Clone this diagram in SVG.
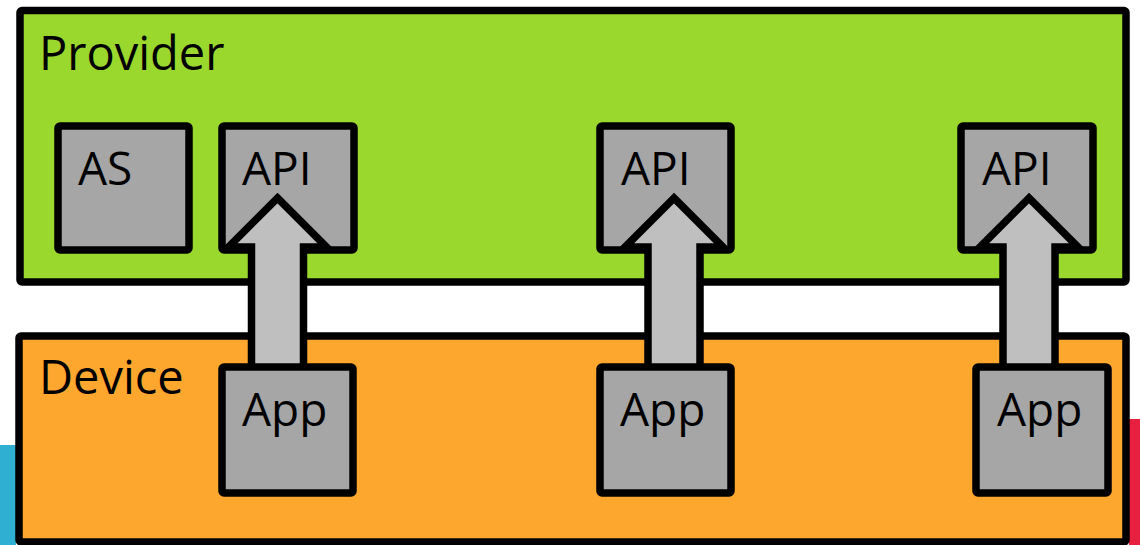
<svg xmlns="http://www.w3.org/2000/svg" width="1140" height="545" viewBox="0 0 1140 545">
  <style>
    .box { stroke: #000; stroke-width: 7.5; stroke-linejoin: round; }
    .provider { fill: #9bd82e; }
    .device { fill: #fea72f; }
    .comp { fill: #a6a6a6; }
    .label { font-family: "Open Sans", "Noto Sans", sans-serif; font-size: 46px; fill: #000; }
    .title { font-size: 47px; }
    .flow { fill: #bfbfbf; stroke: #000; stroke-width: 7.5; stroke-linejoin: miter; }
  </style>

  <rect width="1140" height="545" fill="#fff"/>

  <!-- edge accents -->
  <rect x="0" y="445" width="16" height="100" fill="#2fb0d2"/>
  <rect x="1129" y="419" width="11" height="126" fill="#e8203f"/>

  <!-- containers -->
  <g id="provider">
    <rect class="box provider" x="20" y="10.5" width="1106" height="271.5" rx="2"/>
    <text class="label title" x="39" y="70">Provider</text>
  </g>
  <g id="device">
    <rect class="box device" x="19" y="336" width="1107" height="206" rx="2"/>
    <text class="label title" x="39" y="394">Device</text>
  </g>

  <!-- provider components -->
  <g id="as">
    <rect class="box comp" x="58" y="126" width="131" height="124" rx="2"/>
    <text class="label" x="78" y="185">AS</text>
  </g>
  <g id="api-1">
    <rect class="box comp" x="222" y="126" width="132" height="124" rx="2"/>
    <text class="label" x="242" y="185">API</text>
  </g>
  <g id="api-2">
    <rect class="box comp" x="600" y="126" width="131" height="124" rx="2"/>
    <text class="label" x="621" y="185">API</text>
  </g>
  <g id="api-3">
    <rect class="box comp" x="961" y="126" width="132" height="124" rx="2"/>
    <text class="label" x="982" y="185">API</text>
  </g>

  <!-- block arrows from each app up to its API -->
  <g id="connectors">
    <path class="flow" d="M277.5,198 L326.5,247 L303.5,247 L303.5,369 L251.5,369 L251.5,247 L228.5,247 Z"/>
    <path class="flow" d="M674,198 L723,247 L700,247 L700,369 L648,369 L648,247 L625,247 Z"/>
    <path class="flow" d="M1029,198 L1078,247 L1055,247 L1055,369 L1003,369 L1003,247 L980,247 Z"/>
  </g>

  <!-- device apps -->
  <g id="app-1">
    <rect class="box comp" x="222" y="367" width="131" height="126" rx="2"/>
    <text class="label" x="242" y="426">App</text>
  </g>
  <g id="app-2">
    <rect class="box comp" x="600" y="367" width="131" height="126" rx="2"/>
    <text class="label" x="620" y="426">App</text>
  </g>
  <g id="app-3">
    <rect class="box comp" x="976" y="367" width="132" height="126" rx="2"/>
    <text class="label" x="997" y="426">App</text>
  </g>
</svg>
